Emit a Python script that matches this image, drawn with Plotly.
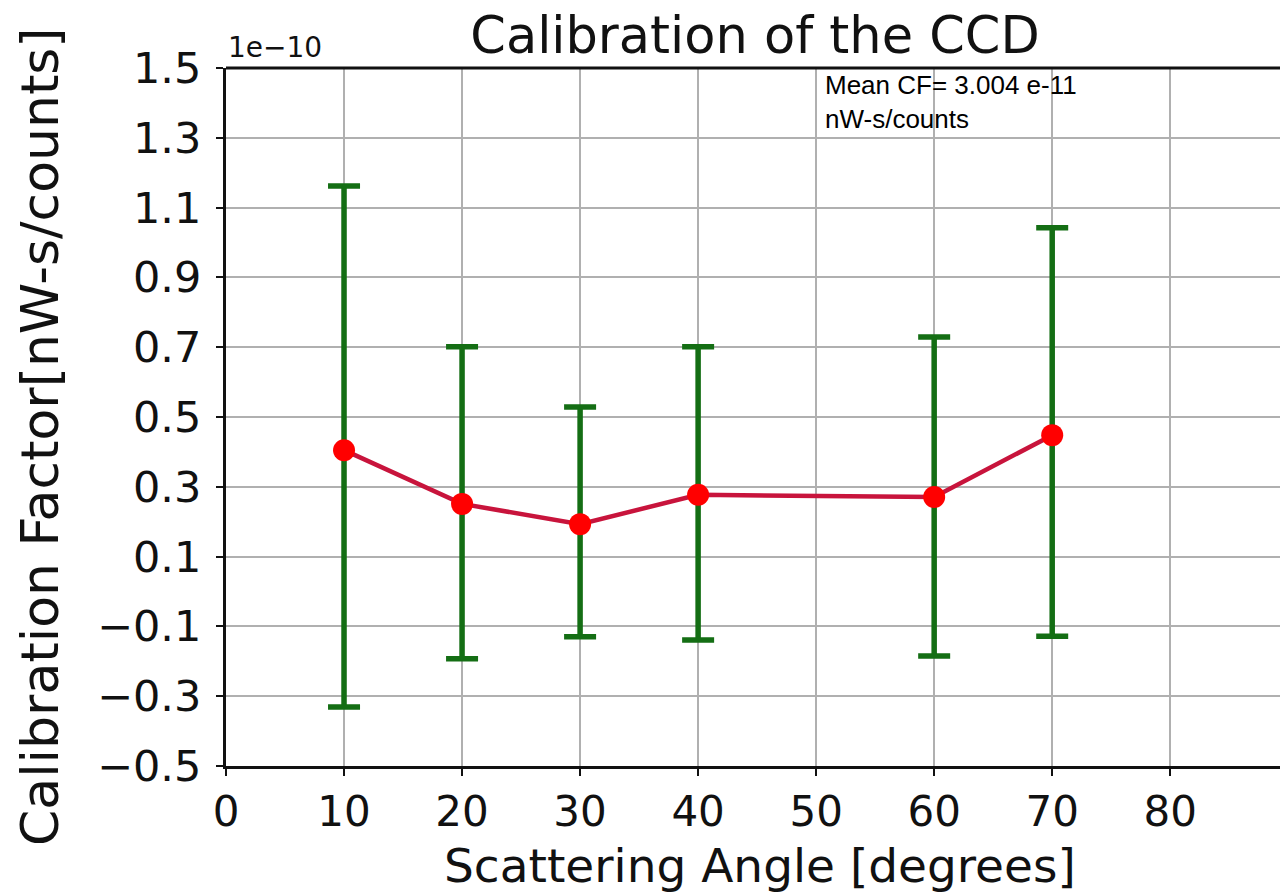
import plotly.graph_objects as go

angles = [10, 20, 30, 40, 60, 70]
cf = [0.405, 0.251, 0.193, 0.277, 0.271, 0.448]  # units of 1e-10
err_plus = [0.757, 0.450, 0.336, 0.424, 0.458, 0.594]
err_minus = [0.736, 0.444, 0.323, 0.416, 0.456, 0.576]
ytick_vals = [-0.5, -0.3, -0.1, 0.1, 0.3, 0.5, 0.7, 0.9, 1.1, 1.3, 1.5]
ytick_text = ["\u22120.5", "\u22120.3", "\u22120.1", "0.1", "0.3", "0.5", "0.7", "0.9", "1.1", "1.3", "1.5"]
xtick_vals = [0, 10, 20, 30, 40, 50, 60, 70, 80]

font = "DejaVu Sans"
L, T, B = 226, 68, 127
PW, PH = 1280 - L, 893 - T - B

fig = go.Figure()
fig.add_trace(go.Scatter(
    x=angles, y=cf, mode="markers",
    marker=dict(size=1, color="rgba(0,0,0,0)"),
    error_y=dict(type="data", array=err_plus, arrayminus=err_minus, symmetric=False,
                 color="#146e14", thickness=5.5, width=16),
    showlegend=False, hoverinfo="skip"))
fig.add_trace(go.Scatter(
    x=angles, y=cf, mode="lines+markers",
    line=dict(color="#c8143c", width=4.5),
    marker=dict(size=22, color="#ff0000"),
    showlegend=False))

fig.update_layout(
    width=1280, height=893,
    margin=dict(l=L, r=0, t=T, b=B),
    paper_bgcolor="white", plot_bgcolor="white",
    title=dict(text="Calibration of the CCD", x=755 / 1280, xanchor="center", y=1 - 35 / 893, yanchor="middle",
               font=dict(family=font, size=51, color="#111")),
    xaxis=dict(range=[0, 89.3], tickvals=xtick_vals, showgrid=True, gridcolor="#b0b0b0", gridwidth=2,
               showline=True, linecolor="#111", linewidth=3, mirror=False,
               ticks="outside", ticklen=7, tickwidth=2, tickcolor="#111",
               tickfont=dict(family=font, size=42, color="#111"), zeroline=False),
    yaxis=dict(range=[-0.5, 1.5], tickvals=ytick_vals, ticktext=ytick_text, showgrid=True,
               gridcolor="#b0b0b0", gridwidth=2,
               showline=True, linecolor="#111", linewidth=3,
               ticks="outside", ticklen=7, tickwidth=2, tickcolor="#111",
               ticklabelstandoff=6,
               tickfont=dict(family=font, size=43, color="#111"), zeroline=False),
)
# top border
fig.add_shape(type="line", xref="paper", yref="paper", x0=0, x1=1, y0=1, y1=1,
              line=dict(color="#111", width=3))
fig.add_annotation(text="1e\u221210", xref="paper", yref="paper", x=0, y=1, xanchor="left", yanchor="bottom",
                   showarrow=False, yshift=2, font=dict(family=font, size=28, color="#111"))
fig.add_annotation(text="Mean CF= 3.004 e-11<br>nW-s/counts", xref="paper", yref="paper",
                   x=(823 - L) / PW, y=1, xanchor="left", yanchor="top", align="left",
                   showarrow=False, yshift=0,
                   font=dict(family="Liberation Sans", size=26, color="#000"))
# axis titles
fig.add_annotation(text="Scattering Angle [degrees]", xref="paper", yref="paper",
                   x=(760 - L) / PW, y=-(865 - T - PH) / PH, xanchor="center", yanchor="middle",
                   showarrow=False, font=dict(family=font, size=47, color="#111"))
fig.add_annotation(text="Calibration Factor[nW-s/counts]", xref="paper", yref="paper",
                   x=-(L - 40) / PW, y=1 - (437 - T) / PH, xanchor="center", yanchor="middle",
                   textangle=-90, showarrow=False, font=dict(family=font, size=52, color="#111"))

fig.write_html("out.html")
